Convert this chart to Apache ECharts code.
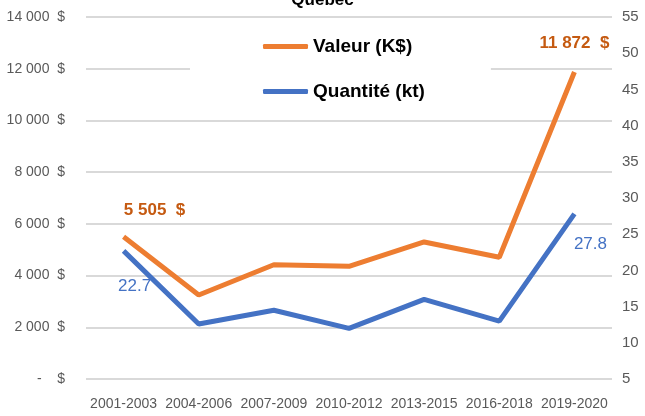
<!DOCTYPE html>
<html>
<head>
	<meta charset="UTF-8">
	<title></title>
	<script src="https://cdn.jsdelivr.net/npm/echarts@6/dist/echarts.min.js"></script>
	<style>
		html, body { margin: 0; padding: 0; background: #fff; }
	</style>
</head>
<body>

<div id="main" style="width: 645px;height:416px;"></div>

<script>
	// données du graphique
	var periodes = ['2001-2003','2004-2006','2007-2009','2010-2012','2013-2015','2016-2018','2019-2020'];
	var valeur = [5505, 3250, 4420, 4360, 5300, 4710, 11872];     // K$
	var quantite = [22.7, 12.6, 14.5, 12.0, 16.0, 13.0, 27.8];     // kt
	var valeurTicks = [0, 2000, 4000, 6000, 8000, 10000, 12000, 14000];
	var quantiteTicks = [5, 10, 15, 20, 25, 30, 35, 40, 45, 50, 55];

	var police = "'Liberation Sans Narrow', 'Arial Narrow', 'Liberation Sans', Arial, sans-serif";

	function milliers(v){
		return String(v).replace(/\B(?=(\d{3})+(?!\d))/g, ' ');
	}

	// étiquettes seulement sur le premier et le dernier point
	function etiquettes(values, first, last){
		return values.map(function(v, i){
			if(i === 0) return { value: v, label: first };
			if(i === values.length - 1) return { value: v, label: last };
			return v;
		});
	}

	var labelValeur = { show: true, color: '#C55A11', fontSize: 17, fontWeight: 'bold', fontFamily: police,
		formatter: function(p){ return milliers(p.value) + '  $'; } };
	var labelQuantite = { show: true, color: '#4472C4', fontSize: 17, fontFamily: police,
		formatter: function(p){ return p.value.toFixed(1); } };

	var myChart = echarts.init(document.getElementById('main'));
	var option = {
		animation: false,
		title: {
			text: 'Québec',
			left: 'center',
			top: -13,
			textStyle: { fontSize: 17, fontWeight: 'bold', color: '#000', fontFamily: police }
		},
		legend: {
			orient: 'vertical',
			left: 190,
			top: 25,
			padding: [12, 66, 10, 73],
			itemGap: 26,
			itemWidth: 45,
			itemHeight: 5,
			icon: 'roundRect',
			backgroundColor: '#fff',
			textStyle: { fontSize: 19, fontWeight: 'bold', color: '#000', fontFamily: police },
			data: ['Valeur (K$)', 'Quantité (kt)']
		},
		grid: { left: 86, right: 33, top: 17, bottom: 37 },
		xAxis: {
			type: 'category',
			data: periodes,
			axisLine: { show: false },
			axisTick: { show: false },
			axisLabel: { interval: 0, color: '#595959', fontSize: 14, margin: 18, fontFamily: police }
		},
		yAxis: [
			{
				type: 'value',
				min: valeurTicks[0],
				max: valeurTicks[valeurTicks.length - 1],
				interval: valeurTicks[1] - valeurTicks[0],
				axisLabel: {
					color: '#595959', fontSize: 14, margin: 21, fontFamily: police,
					formatter: function(v){ return v === 0 ? '-    $' : milliers(v) + '  $'; }
				},
				splitLine: { lineStyle: { color: '#d9d9d9', width: 2 } }
			},
			{
				type: 'value',
				min: quantiteTicks[0],
				max: quantiteTicks[quantiteTicks.length - 1],
				interval: quantiteTicks[1] - quantiteTicks[0],
				axisLabel: { color: '#595959', fontSize: 15, margin: 10, fontFamily: police },
				splitLine: { show: false }
			}
		],
		series: [
			{
				name: 'Valeur (K$)',
				type: 'line',
				yAxisIndex: 0,
				symbol: 'circle',
				symbolSize: 0,
				lineStyle: { color: '#ED7D31', width: 5 },
				itemStyle: { color: '#ED7D31' },
				data: etiquettes(valeur,
					Object.assign({ position: 'top', distance: 18, offset: [31, 0] }, labelValeur),
					Object.assign({ position: 'top', distance: 20, offset: [0, 0] }, labelValeur))
			},
			{
				name: 'Quantité (kt)',
				type: 'line',
				yAxisIndex: 1,
				symbol: 'circle',
				symbolSize: 0,
				lineStyle: { color: '#4472C4', width: 5 },
				itemStyle: { color: '#4472C4' },
				data: etiquettes(quantite,
					Object.assign({ position: 'bottom', distance: 27, offset: [11, 0] }, labelQuantite),
					Object.assign({ position: 'bottom', distance: 22, offset: [16, 0] }, labelQuantite))
			}
		]
	};
	myChart.setOption(option);
</script>
</body>
</html>
